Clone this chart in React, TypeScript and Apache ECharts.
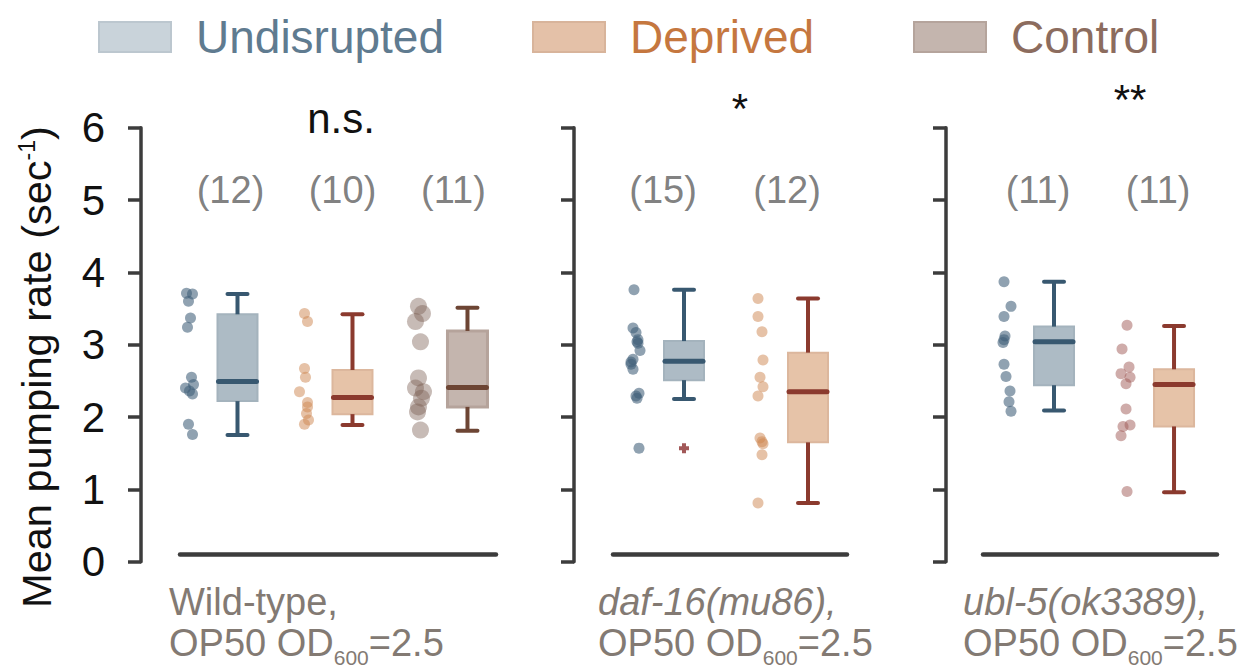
import React, { useEffect, useRef } from "react";
import * as echarts from "echarts";

// ---------- data ----------
const groupNames = ["Undisrupted", "Deprived", "Control"];
const panelLabels = ["Wild-type,", "daf-16(mu86),", "ubl-5(ok3389),"];
const yTicks = [0, 1, 2, 3, 4, 5, 6];
const significance = ["n.s.", "*", "**"];

// Wild-type
const wtUndisrupted = [3.71, 3.7, 3.6, 3.37, 3.24, 2.55, 2.45, 2.4, 2.36, 2.32, 1.9, 1.76];
const wtDeprived = [3.43, 3.32, 2.67, 2.55, 2.35, 2.2, 2.14, 2.05, 1.96, 1.9];
const wtControl = [3.53, 3.43, 3.32, 3.04, 2.54, 2.4, 2.35, 2.26, 2.14, 2.07, 1.82];
// daf-16(mu86)
const dafUndisrupted = [3.76, 3.23, 3.17, 3.07, 3.04, 3.02, 2.92, 2.8, 2.76, 2.73, 2.66, 2.33, 2.29, 2.26, 1.57];
const dafDeprived = [3.64, 3.39, 3.18, 2.79, 2.55, 2.42, 2.29, 1.71, 1.66, 1.63, 1.48, 0.81];
// ubl-5(ok3389)
const ublUndisrupted = [3.87, 3.53, 3.39, 3.12, 3.07, 3.03, 2.73, 2.56, 2.36, 2.21, 2.08];
const ublDeprived = [3.27, 2.94, 2.69, 2.6, 2.55, 2.46, 2.11, 1.89, 1.87, 1.74, 0.97];

// box statistics: [lower whisker, Q1, median, Q3, upper whisker]
const wtUndisruptedBox = [1.75, 2.22, 2.49, 3.42, 3.7];
const wtDeprivedBox = [1.89, 2.04, 2.27, 2.65, 3.42];
const wtControlBox = [1.81, 2.14, 2.41, 3.19, 3.51];
const dafUndisruptedBox = [2.25, 2.51, 2.77, 3.05, 3.76];
const dafDeprivedBox = [0.81, 1.65, 2.35, 2.89, 3.64];
const ublUndisruptedBox = [2.09, 2.44, 3.04, 3.25, 3.87];
const ublDeprivedBox = [0.96, 1.87, 2.45, 2.66, 3.26];
const dafUndisruptedOutliers = [1.57];

// ---------- layout / styles ----------
const FONT = '"Liberation Sans", Arial, Helvetica, sans-serif';
const GRID_TOP = 127.7;
const GRID_H = 434;
const STRIP_DX = -48;

const jitterWtU = [-3, 3, -1, 1, -2, 2, 4, -4, 0, 3, -1, 3];
const jitterWtD = [0, 3, 0, 1, -5, 3, 3, 2, 4, 0];
const jitterWtC = [-1, 3, -4, 1, -1, -4, 4, 2, -1, -2, 1];
const jitterDafU = [-2, -3, 0, 2, 1, 2, 4, -3, -5, -5, -3, 3, 0, 1, 3];
const jitterDafD = [-2, -2, 2, 3, 0, 3, -2, 0, 2, 3, 2, -2];
const jitterUblU = [-2, 5, -2, -1, -2, -3, -2, 0, 4, 3, 5];
const jitterUblD = [1, -4, 3, -5, 4, 0, 0, 4, -3, -5, 1];

const STY: any = {
  Undisrupted: { fill: "#adbbc5", edge: "#a4b3bd", line: "#385870", pt: "#3f5f78", ptOp: 0.58, size: 11 },
  Deprived: { fill: "#e6c3a8", edge: "#dcb79d", line: "#8b3a2e", pt: "#cd8550", ptOp: 0.5, size: 11 },
  Control: { fill: "#c4b5ae", edge: "#b5a39b", line: "#6d4534", pt: "#7a5d50", ptOp: 0.42, size: 17 },
};

const panels = [
  {
    left: 180, width: 316, xMin: -0.5, xMax: 2.248, axisOffset: 39,
    groups: [
      { name: "Undisrupted", values: wtUndisrupted, box: wtUndisruptedBox, jitter: jitterWtU, countDx: -7 },
      { name: "Deprived", values: wtDeprived, box: wtDeprivedBox, jitter: jitterWtD, countDx: -10 },
      { name: "Control", values: wtControl, box: wtControlBox, jitter: jitterWtC, countDx: -14 },
    ],
  },
  {
    left: 613, width: 234, xMin: -0.5726, xMax: 1.3145, axisOffset: 39,
    groups: [
      { name: "Undisrupted", values: dafUndisrupted, box: dafUndisruptedBox, jitter: jitterDafU, countDx: -21, outliers: dafUndisruptedOutliers },
      { name: "Deprived", values: dafDeprived, box: dafDeprivedBox, jitter: jitterDafD, countDx: -21 },
    ],
  },
  {
    left: 983, width: 234, xMin: -0.5917, xMax: 1.358, axisOffset: 37,
    groups: [
      { name: "Undisrupted", values: ublUndisrupted, box: ublUndisruptedBox, jitter: jitterUblU, countDx: -16 },
      { name: "Deprived", values: ublDeprived, box: ublDeprivedBox, jitter: jitterUblD, countDx: -16, ptColor: "#a05a55" },
    ],
  },
];

const sigPos = [
  { x: 341, y: 118 },
  { x: 740, y: 108 },
  { x: 1130, y: 99 },
];
const labelPos = [169, 598, 963];
const LABEL_COLOR = "#837a73";

function buildOption() {
  const grid: any[] = [];
  const xAxis: any[] = [];
  const yAxis: any[] = [];
  const series: any[] = [];

  panels.forEach((p, pi) => {
    grid.push({ left: p.left, top: GRID_TOP, width: p.width, height: GRID_H });
    xAxis.push({
      type: "value", gridIndex: pi, min: p.xMin, max: p.xMax, offset: -7,
      axisLine: { show: true, onZero: false, lineStyle: { color: "#3c3c3c", width: 4.5 } },
      axisTick: { show: false }, axisLabel: { show: false }, splitLine: { show: false },
    });
    yAxis.push({
      type: "value", gridIndex: pi, min: 0, max: 6, interval: 1, offset: p.axisOffset,
      axisLine: { show: true, onZero: false, lineStyle: { color: "#3c3c3c", width: 3.5 } },
      axisTick: { show: true, length: 13, lineStyle: { color: "#3c3c3c", width: 3.5 } },
      axisLabel: {
        show: pi === 0, fontSize: 42, color: "#111", fontFamily: FONT, margin: 36,
        formatter: (v: number) => (yTicks.includes(v) ? String(v) : ""),
      },
      splitLine: { show: false },
    });

    p.groups.forEach((g: any, gi: number) => {
      const st = STY[g.name];
      // box
      series.push({
        type: "custom", name: g.name, xAxisIndex: pi, yAxisIndex: pi, z: 3,
        itemStyle: { color: st.fill },
        data: [[gi, ...g.box]],
        renderItem: (params: any, api: any) => {
          const x = api.value(0);
          const c = (v: number) => api.coord([x, v]);
          const pMin = c(api.value(1));
          const pQ1 = c(api.value(2));
          const pMed = c(api.value(3));
          const pQ3 = c(api.value(4));
          const pMax = c(api.value(5));
          const cx = pMed[0];
          const hw = 20;
          const cap = 10;
          const mh = 19;
          const ls = { stroke: st.line, lineWidth: 4, lineCap: "round" };
          return {
            type: "group",
            children: [
              { type: "rect", shape: { x: cx - hw, y: pQ3[1], width: 2 * hw, height: pQ1[1] - pQ3[1] }, style: { fill: st.fill, stroke: st.edge, lineWidth: g.name === "Control" ? 3 : 2 } },
              { type: "line", shape: { x1: cx, y1: pQ3[1], x2: cx, y2: pMax[1] }, style: { stroke: st.line, lineWidth: 4 } },
              { type: "line", shape: { x1: cx, y1: pQ1[1], x2: cx, y2: pMin[1] }, style: { stroke: st.line, lineWidth: 4 } },
              { type: "line", shape: { x1: cx - cap, y1: pMax[1], x2: cx + cap, y2: pMax[1] }, style: ls },
              { type: "line", shape: { x1: cx - cap, y1: pMin[1], x2: cx + cap, y2: pMin[1] }, style: ls },
              { type: "line", shape: { x1: cx - mh, y1: pMed[1], x2: cx + mh, y2: pMed[1] }, style: { stroke: st.line, lineWidth: 5, lineCap: "round" } },
            ],
          };
        },
      });
      // strip points
      series.push({
        type: "scatter", name: g.name, xAxisIndex: pi, yAxisIndex: pi, z: 2,
        symbolSize: st.size,
        itemStyle: { color: g.ptColor || st.pt, opacity: st.ptOp },
        data: g.values.map((v: number, i: number) => ({ value: [gi, v], symbolOffset: [STRIP_DX + g.jitter[i], 0] })),
      });
      // outliers
      if (g.outliers) {
        series.push({
          type: "scatter", name: "outliers", xAxisIndex: pi, yAxisIndex: pi, z: 4,
          symbol: "path://M3,0h4v3h3v4h-3v3h-4v-3h-3v-4h3z", symbolSize: 10,
          itemStyle: { color: "#8b2e2e" },
          data: g.outliers.map((v: number) => [gi, v]),
        });
      }
      // count label
      series.push({
        type: "scatter", name: "counts", xAxisIndex: pi, yAxisIndex: pi, silent: true,
        symbolSize: 1, itemStyle: { color: "rgba(0,0,0,0)" },
        label: {
          show: true, position: "inside", offset: [g.countDx, 0],
          formatter: `(${g.values.length})`, fontSize: 38, color: "#606060", fontFamily: FONT,
          textBorderWidth: 0,
        },
        data: [[gi, 5.14]],
      });
    });
  });

  const legendCfg = [
    { name: "Undisrupted", left: 93, text: "#5f7b90", sw: "#c9d3da", bd: "#bcc7cf" },
    { name: "Deprived", left: 527, text: "#c5773f", sw: "#e4c1a8", bd: "#d8b49b" },
    { name: "Control", left: 908, text: "#8c6c5e", sw: "#c4b5ae", bd: "#b5a49c" },
  ];
  const legend = legendCfg.map((l) => ({
    data: [l.name], left: l.left, top: 9, icon: "rect", itemWidth: 72, itemHeight: 30,
    itemStyle: { color: l.sw, borderColor: l.bd, borderWidth: 2, opacity: 1 },
    textStyle: { fontSize: 46, color: l.text, fontFamily: FONT, padding: [0, 0, 0, 20] },
    selectedMode: false,
  }));

  const graphic: any[] = [
    {
      type: "text", x: 36, y: 367, rotation: Math.PI / 2,
      style: {
        text: "Mean pumping rate (sec{sup|-1})", fill: "#111", fontSize: 41.5, fontFamily: FONT,
        align: "center", verticalAlign: "middle",
        rich: { sup: { fontSize: 23, verticalAlign: "top", fill: "#111", fontFamily: FONT } },
      },
    },
  ];
  significance.forEach((s, i) => {
    graphic.push({
      type: "text", x: sigPos[i].x, y: sigPos[i].y,
      style: { text: s, fill: "#111", fontSize: 42, fontFamily: FONT, align: "center", verticalAlign: "middle" },
    });
  });
  panelLabels.forEach((t, i) => {
    graphic.push({
      type: "text", x: labelPos[i], y: 602,
      style: { text: t, fill: LABEL_COLOR, fontSize: 38, fontFamily: FONT, fontStyle: i === 0 ? "normal" : "italic", align: "left", verticalAlign: "middle" },
    });
    graphic.push({
      type: "text", x: labelPos[i], y: 643,
      style: {
        text: "OP50 OD{sub|600}=2.5", fill: LABEL_COLOR, fontSize: 38, fontFamily: FONT, align: "left", verticalAlign: "middle",
        rich: { sub: { fontSize: 21, verticalAlign: "bottom", lineHeight: 50, fill: LABEL_COLOR, fontFamily: FONT } },
      },
    });
  });

  return { animation: false, backgroundColor: "#fff", grid, xAxis, yAxis, series, legend, graphic };
}

export default function App() {
  const ref = useRef<HTMLDivElement>(null);
  useEffect(() => {
    if (!ref.current) return;
    const chart = echarts.init(ref.current, null, { renderer: "svg" });
    chart.setOption(buildOption() as any);
    return () => chart.dispose();
  }, []);
  return <div ref={ref} style={{ position: "absolute", left: 0, top: 0, width: 1245, height: 671 }} />;
}
